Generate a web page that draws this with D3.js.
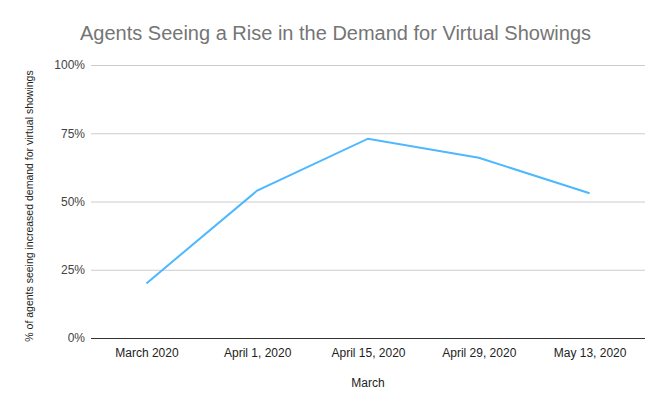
<!DOCTYPE html>
<html><head><meta charset="utf-8">
<script src="https://cdn.jsdelivr.net/npm/d3@7"></script>
<style>body{margin:0;background:#fff}svg{display:block;font-family:"Liberation Sans",Arial,sans-serif}</style>
</head><body>
<script>
const categories = ["March 2020","April 1, 2020","April 15, 2020","April 29, 2020","May 13, 2020"];
const values = [20, 54, 73, 66, 53];
const yTicks = [0, 25, 50, 75, 100];
const title = "Agents Seeing a Rise in the Demand for Virtual Showings";
const xTitle = "March";
const yTitle = "% of agents seeing increased demand for virtual showings";

const W = 666, H = 412;
const m = {left: 91, right: 21, top: 65, bottom: 74};
const svg = d3.select("body").append("svg").attr("width", W).attr("height", H);
svg.append("rect").attr("width", W).attr("height", H).attr("fill", "#fff");

const x = d3.scalePoint().domain(categories).range([m.left, W - m.right]).padding(0.5);
const y = d3.scaleLinear().domain([0, 100]).range([H - m.bottom, m.top]);

svg.append("text").attr("x", 80).attr("y", 40).attr("font-size", 20).attr("fill", "#757575").text(title);

const yAxis = svg.append("g").attr("transform", `translate(${m.left},0)`)
  .call(d3.axisLeft(y).tickValues(yTicks).tickFormat(d => d + "%").tickSize(-(W - m.left - m.right)).tickPadding(6));
yAxis.select(".domain").remove();
yAxis.selectAll(".tick line").attr("stroke", d => d === 0 ? "#333" : "#ccc").attr("stroke-width", 1);
yAxis.selectAll(".tick text").attr("font-size", 12).attr("fill", "#444").attr("font-family", "Liberation Sans, Arial, sans-serif");

const xAxis = svg.append("g").attr("transform", `translate(0,${H - m.bottom})`)
  .call(d3.axisBottom(x).tickSize(0).tickPadding(10));
xAxis.select(".domain").remove();
xAxis.selectAll(".tick text").attr("font-size", 12).attr("fill", "#222").attr("font-family", "Liberation Sans, Arial, sans-serif");

svg.append("path").datum(values)
  .attr("fill", "none").attr("stroke", "#4db8ff").attr("stroke-width", 2)
  .attr("d", d3.line().x((d, i) => x(categories[i])).y(d => y(d)));

svg.append("text").attr("x", (m.left + W - m.right) / 2).attr("y", 387).attr("text-anchor", "middle")
  .attr("font-size", 12).attr("fill", "#222").text(xTitle);
svg.append("text").attr("transform", `translate(33,206) rotate(-90)`)
  .attr("text-anchor", "middle").attr("font-size", 10.5).attr("fill", "#222").text(yTitle);
</script>
</body></html>
